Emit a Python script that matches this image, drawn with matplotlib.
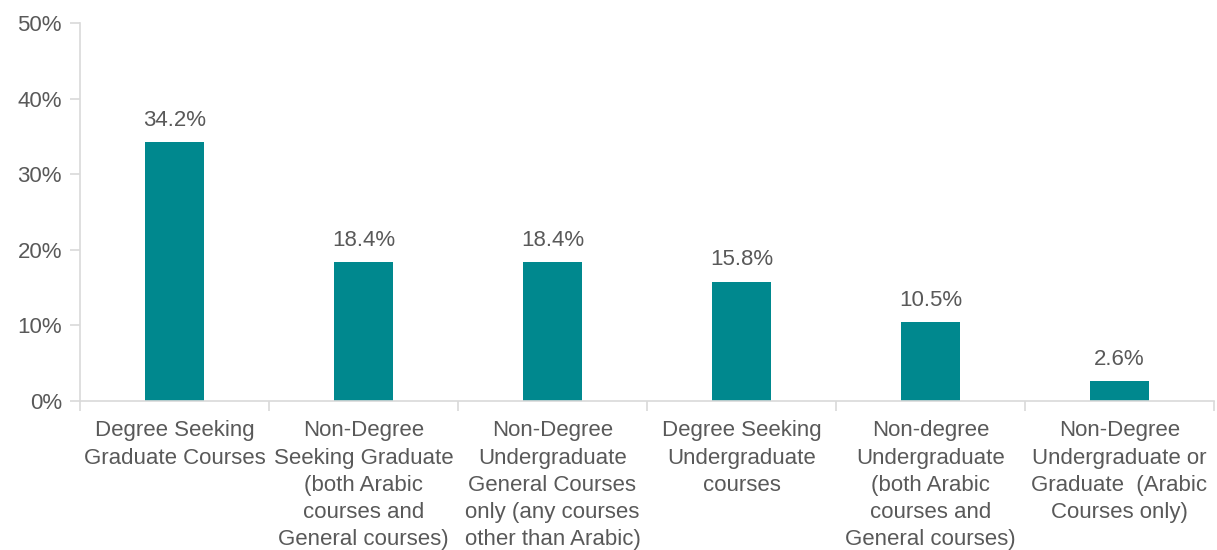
import matplotlib.pyplot as plt
import numpy as np

categories = [
    "Degree Seeking\nGraduate Courses",
    "Non-Degree\nSeeking Graduate\n(both Arabic\ncourses and\nGeneral courses)",
    "Non-Degree\nUndergraduate\nGeneral Courses\nonly (any courses\nother than Arabic)",
    "Degree Seeking\nUndergraduate\ncourses",
    "Non-degree\nUndergraduate\n(both Arabic\ncourses and\nGeneral courses)",
    "Non-Degree\nUndergraduate or\nGraduate  (Arabic\nCourses only)",
]
values = [34.2, 18.4, 18.4, 15.8, 10.5, 2.6]
y_ticks = [0, 10, 20, 30, 40, 50]

BAR_COLOR = "#00888E"
TEXT_COLOR = "#595959"
AXIS_COLOR = "#D9D9D9"
FONT_SIZE = 16

plt.rcParams["font.family"] = ["Liberation Sans", "DejaVu Sans"]

fig = plt.figure(figsize=(12.17, 5.5), dpi=100)
ax = fig.add_axes([80 / 1217, 1 - 401 / 550, (1214 - 80) / 1217, (401 - 23) / 550])

x = np.arange(len(values))
ax.bar(x, values, width=0.31, color=BAR_COLOR, zorder=2)
for xi, v in zip(x, values):
    ax.annotate(f"{v:.1f}%", (xi, v), xytext=(0, 8), textcoords="offset points",
                ha="center", va="bottom", fontsize=FONT_SIZE, color=TEXT_COLOR)

ax.set_xlim(-0.5, len(values) - 0.5)
ax.set_ylim(0, 50)
ax.set_yticks(y_ticks)
ax.set_yticklabels([f"{t}%" for t in y_ticks])

ax.set_xticks(x)
ax.set_xticklabels(categories, linespacing=1.39)
ax.set_xticks(np.arange(len(values) + 1) - 0.5, minor=True)
ax.tick_params(axis="x", which="major", length=0, pad=14, labelsize=FONT_SIZE, labelcolor=TEXT_COLOR)
ax.tick_params(axis="x", which="minor", length=7, width=1.2, color=AXIS_COLOR, direction="out")
ax.tick_params(axis="y", length=7, width=1.2, color=AXIS_COLOR, pad=6, labelsize=FONT_SIZE, labelcolor=TEXT_COLOR)

for side in ["top", "right"]:
    ax.spines[side].set_visible(False)
for side in ["left", "bottom"]:
    ax.spines[side].set_color(AXIS_COLOR)
    ax.spines[side].set_linewidth(1.2)

fig.savefig("out.png", dpi=100)
